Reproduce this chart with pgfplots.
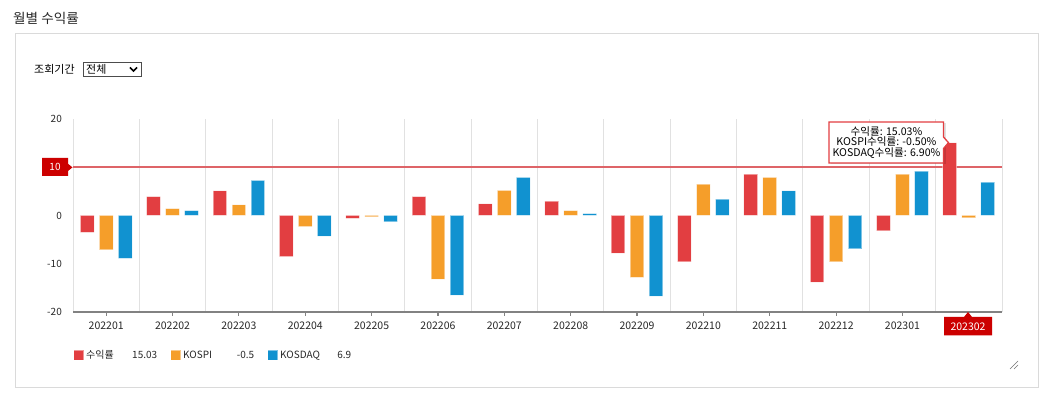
\documentclass[border=0pt]{standalone}
\usepackage{pgfplots}
\pgfplotsset{compat=1.18}
\usepackage{fontspec}
\setmainfont{Noto Sans CJK KR}
\definecolor{cred}{RGB}{226,62,65}
\definecolor{corange}{RGB}{245,158,42}
\definecolor{cblue}{RGB}{17,146,208}
\definecolor{lblred}{RGB}{204,0,0}
\definecolor{gridc}{RGB}{225,225,225}
\definecolor{framec}{RGB}{218,218,218}
\definecolor{axisc}{RGB}{130,130,130}
\definecolor{txt}{RGB}{40,40,40}
\definecolor{refline}{RGB}{222,100,104}
\begin{document}
\begin{tikzpicture}[x=1pt,y=1pt]
\fill[white] (0,0) rectangle (1050,399);
\useasboundingbox (0,0) rectangle (1050,399);
% frame and header
\draw[framec, line width=1pt] (15,11) rectangle (1038,365);
\node[anchor=west, inner sep=0pt, text=txt, font=\fontsize{13.6}{15}\selectfont] at (13,381) {월별 수익률};
\node[anchor=west, inner sep=0pt, text=black, font=\fontsize{11}{13}\selectfont] at (34,329.5) {조회기간};
\draw[black!70, line width=0.8pt] (83,337) rectangle (141,322.5);
\node[anchor=west, inner sep=0pt, text=black, font=\fontsize{11}{13}\selectfont] at (86,330) {전체};
\draw[black, line width=1.6pt] (130,331.5) -- (133.5,328) -- (137,331.5);
% resize grip
\draw[black!55, line width=0.6pt] (1010,30) -- (1018,38);
\draw[black!55, line width=0.6pt] (1014,30) -- (1018,34);

\begin{axis}[
  at={(73pt,87pt)}, anchor=south west,
  scale only axis, width=929pt, height=193pt,
  xmin=-0.5, xmax=13.5, ymin=-20, ymax=20,
  ybar, bar width=13.7pt,
  axis x line*=bottom, axis y line*=left,
  x axis line style={axisc, line width=2pt},
  y axis line style={draw=none},
  xtick={0,...,13},
  xticklabels={202201,202202,202203,202204,202205,202206,202207,202208,202209,202210,202211,202212,202301,{}},
  minor xtick={-0.5,0.5,...,13.5},
  xminorgrids=true,
  minor x grid style={gridc, line width=1pt},
  ytick={-20,-10,0,10,20},
  tick align=outside,
  major tick length=4pt,
  x tick style={axisc, line width=1.2pt},
  y tick style={draw=none},
  minor tick length=0pt,
  /pgf/number format/assume math mode=true,
  yticklabel style={font=\fontsize{10}{12}\selectfont, text=txt, inner sep=0pt, xshift=-7pt},
  xticklabel style={font=\fontsize{10.5}{12}\selectfont, text=txt, inner sep=0pt, anchor=north, yshift=-6pt},
  clip=false,
  legend style={draw=none, fill=none, at={(rel axis cs:0,0)}, anchor=north west, xshift=-3pt, yshift=-34pt,
    legend columns=3, font=\fontsize{10}{12}\selectfont, text=txt,
    /tikz/every even column/.append style={column sep=11pt},
    nodes={inner sep=2pt}},
  legend image code/.code={\fill[#1] (0pt,-5pt) rectangle (10pt,5pt);},
]
\draw[refline, line width=1.5pt] (axis cs:-0.5,10) -- (axis cs:13.5,10);
\addplot[fill=cred, draw=white, draw opacity=0.45, line width=1pt, bar shift=-19pt] coordinates {
 (0,-3.5) (1,3.9) (2,5.1) (3,-8.5) (4,-0.6) (5,3.9) (6,2.4) (7,3.0) (8,-7.8) (9,-9.6) (10,8.6) (11,-13.8) (12,-3.2) (13,15.03)};
\addlegendentry{\makebox[71pt][l]{수익률\hfill 15.03}}
\addplot[fill=corange, draw=white, draw opacity=0.45, line width=1pt, bar shift=0pt] coordinates {
 (0,-7.1) (1,1.4) (2,2.2) (3,-2.3) (4,-0.3) (5,-13.2) (6,5.2) (7,1.0) (8,-12.8) (9,6.5) (10,7.9) (11,-9.6) (12,8.6) (13,-0.5)};
\addlegendentry{\makebox[71pt][l]{KOSPI\hfill -0.5}}
\addplot[fill=cblue, draw=white, draw opacity=0.45, line width=1pt, bar shift=19pt] coordinates {
 (0,-8.9) (1,1.0) (2,7.3) (3,-4.3) (4,-1.3) (5,-16.5) (6,7.9) (7,0.4) (8,-16.7) (9,3.4) (10,5.1) (11,-6.9) (12,9.2) (13,6.9)};
\addlegendentry{\makebox[71pt][l]{KOSDAQ\hfill 6.9}}
\end{axis}

% label for reference line
\fill[lblred] (42,223) -- (68,223) -- (68,228) -- (72.5,231.6) -- (68,235.2) -- (68,241) -- (42,241) -- cycle;
\node[text=white, inner sep=0pt, font=\fontsize{10}{12}\selectfont] at (55,232) {10};
% highlighted category label
\fill[lblred] (944,82) -- (964,82) -- (968,87) -- (972,82) -- (992,82) -- (992,63.5) -- (944,63.5) -- cycle;
\node[text=white, inner sep=0pt, font=\fontsize{10.5}{12}\selectfont] at (968,72.5) {202302};
% tooltip
\fill[black, opacity=0.12] (831,234.5) rectangle (946,275.5);
\draw[cred, line width=1.3pt, fill=white] (829,277) -- (943.5,277) -- (943.5,262) -- (948.5,256.3) -- (943.5,250.5) -- (943.5,236) -- (829,236) -- cycle;
\node[align=center, text=black, inner sep=0pt, font=\fontsize{10.6}{10.6}\selectfont] at (886.5,256.5) {수익률: 15.03\%\\KOSPI수익률: -0.50\%\\KOSDAQ수익률: 6.90\%};
\end{tikzpicture}
\end{document}
